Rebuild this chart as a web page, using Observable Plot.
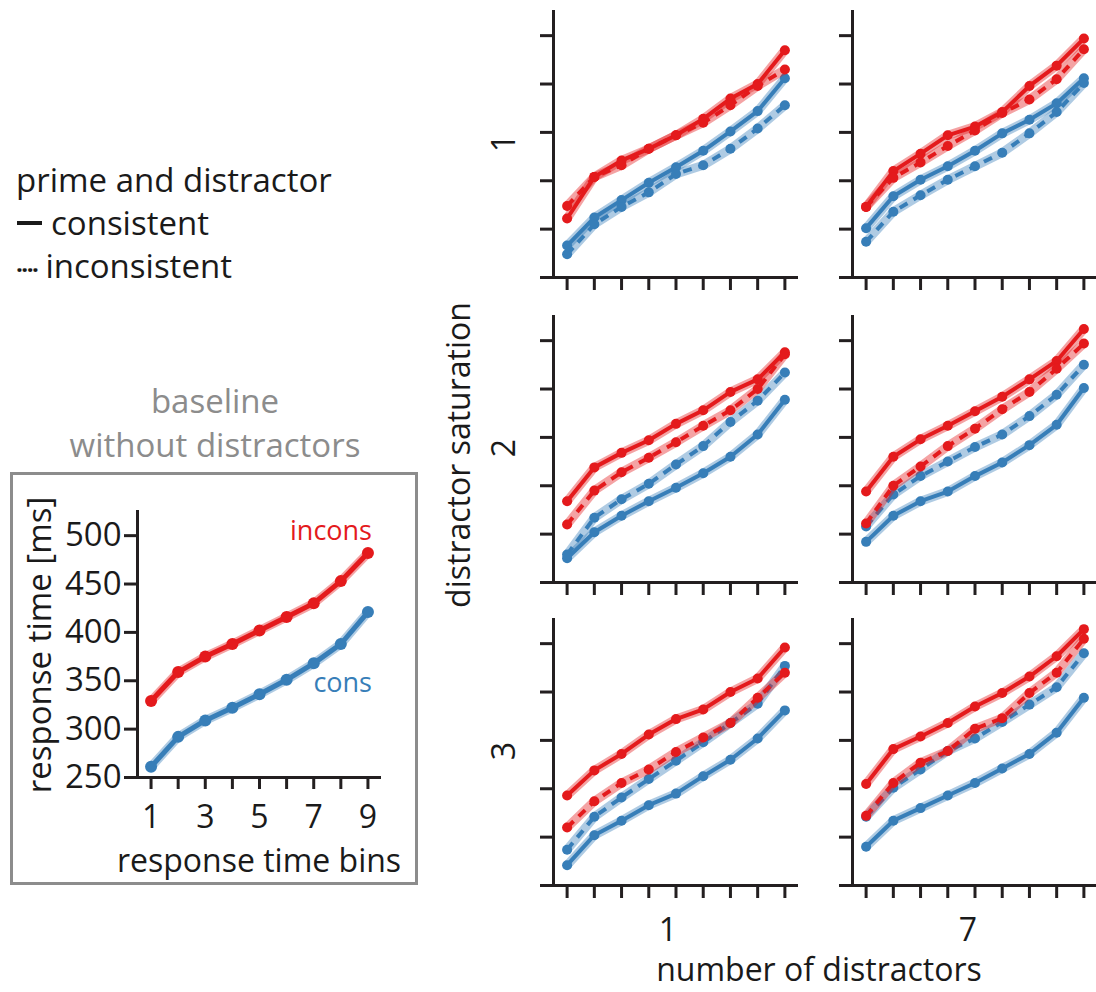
<!DOCTYPE html>
<html>
<head>
<meta charset="utf-8">
<script src="https://cdn.jsdelivr.net/npm/d3@7"></script>
<script src="https://cdn.jsdelivr.net/npm/@observablehq/plot@0.6"></script>
<style>
  html, body { margin: 0; padding: 0; background: #fff; overflow: hidden; }
  #root { position: relative; width: 1096px; height: 992px; overflow: hidden; font-family: "Open Sans", sans-serif; color: #1a1a1a; }
  .t { position: absolute; white-space: nowrap; }
  .abs { position: absolute; }
  #box { position: absolute; left: 10px; top: 472px; width: 402px; height: 407px; border: 3px solid #8c8c8c; }
  .dash { display: inline-block; width: 25px; height: 4px; background: #1a1a1a; vertical-align: 0.28em; margin-right: 9px; margin-left: 3px; }
  .dots { display: inline-block; font-weight: 700; font-size: 24px; letter-spacing: -1.5px; margin-right: 8px; margin-left: 2px; }
</style>
</head>
<body>
<div id="root"><div id="box"></div></div>
<script>
// ---------- data ----------
const bins = [1, 2, 3, 4, 5, 6, 7, 8, 9];
const yTicks = [250, 300, 350, 400, 450, 500];
const distractorCounts = [1, 7];
const saturations = [1, 2, 3];

// baseline without distractors (response time [ms])
const baselineIncons = [329, 359, 375, 388, 402, 416, 430, 453, 482];
const baselineCons   = [261, 292, 309, 322, 336, 351, 368, 388, 421];

// facets: d = number of distractors, s = distractor saturation
// Incons / Cons = response condition (red / blue); PrimeCons / PrimeIncons = prime and distractor consistent / inconsistent
const d1s1InconsPrimeCons   = [311, 354, 371, 383, 397, 414, 435, 450, 485];
const d1s1InconsPrimeIncons = [324, 354, 366, 383, 397, 410, 428, 448, 465];
const d1s1ConsPrimeCons     = [283, 312, 330, 348, 364, 381, 401, 422, 456];
const d1s1ConsPrimeIncons   = [274, 305, 323, 338, 357, 366, 383, 404, 428];

const d7s1InconsPrimeCons   = [323, 360, 378, 397, 406, 421, 448, 469, 497];
const d7s1InconsPrimeIncons = [323, 353, 369, 386, 402, 420, 434, 455, 486];
const d7s1ConsPrimeCons     = [301, 334, 351, 365, 381, 399, 413, 430, 456];
const d7s1ConsPrimeIncons   = [287, 318, 335, 351, 365, 379, 399, 421, 451];

const d1s2InconsPrimeCons   = [334, 369, 384, 397, 414, 428, 447, 460, 488];
const d1s2InconsPrimeIncons = [310, 345, 364, 379, 395, 412, 428, 450, 486];
const d1s2ConsPrimeCons     = [275, 302, 319, 334, 348, 363, 380, 403, 439];
const d1s2ConsPrimeIncons   = [279, 317, 336, 352, 372, 391, 416, 438, 467];

const d7s2InconsPrimeCons   = [344, 380, 398, 412, 427, 442, 460, 479, 512];
const d7s2InconsPrimeIncons = [311, 350, 370, 391, 409, 429, 447, 471, 497];
const d7s2ConsPrimeCons     = [292, 319, 334, 344, 360, 374, 392, 413, 451];
const d7s2ConsPrimeIncons   = [308, 341, 360, 375, 390, 403, 422, 444, 475];

const d1s3InconsPrimeCons   = [343, 369, 386, 406, 422, 432, 450, 464, 496];
const d1s3InconsPrimeIncons = [310, 337, 356, 370, 388, 403, 418, 444, 470];
const d1s3ConsPrimeCons     = [271, 302, 317, 333, 345, 363, 380, 402, 431];
const d1s3ConsPrimeIncons   = [287, 321, 341, 360, 379, 398, 418, 438, 477];

const d7s3InconsPrimeCons   = [355, 391, 404, 418, 435, 449, 466, 487, 515];
const d7s3InconsPrimeIncons = [322, 356, 377, 389, 412, 423, 449, 470, 505];
const d7s3ConsPrimeCons     = [290, 317, 330, 343, 356, 371, 386, 408, 444];
const d7s3ConsPrimeIncons   = [321, 351, 370, 389, 402, 419, 437, 455, 490];

// ---------- style ----------
const RED = "#e41a1c", BLUE = "#377eb8", AXIS = "#231f20", GREY = "#8c8c8c";
const FONT = "'Open Sans', sans-serif";
const xDomain = [0.5, 9.5];
const yDomain = [250, 526];
const colorScale = {domain: ["incons", "cons"], range: [RED, BLUE]};

// ---------- build tables ----------
const seriesList = [
  [1, 1, "incons", "consistent", d1s1InconsPrimeCons], [1, 1, "incons", "inconsistent", d1s1InconsPrimeIncons],
  [1, 1, "cons", "consistent", d1s1ConsPrimeCons],     [1, 1, "cons", "inconsistent", d1s1ConsPrimeIncons],
  [7, 1, "incons", "consistent", d7s1InconsPrimeCons], [7, 1, "incons", "inconsistent", d7s1InconsPrimeIncons],
  [7, 1, "cons", "consistent", d7s1ConsPrimeCons],     [7, 1, "cons", "inconsistent", d7s1ConsPrimeIncons],
  [1, 2, "incons", "consistent", d1s2InconsPrimeCons], [1, 2, "incons", "inconsistent", d1s2InconsPrimeIncons],
  [1, 2, "cons", "consistent", d1s2ConsPrimeCons],     [1, 2, "cons", "inconsistent", d1s2ConsPrimeIncons],
  [7, 2, "incons", "consistent", d7s2InconsPrimeCons], [7, 2, "incons", "inconsistent", d7s2InconsPrimeIncons],
  [7, 2, "cons", "consistent", d7s2ConsPrimeCons],     [7, 2, "cons", "inconsistent", d7s2ConsPrimeIncons],
  [1, 3, "incons", "consistent", d1s3InconsPrimeCons], [1, 3, "incons", "inconsistent", d1s3InconsPrimeIncons],
  [1, 3, "cons", "consistent", d1s3ConsPrimeCons],     [1, 3, "cons", "inconsistent", d1s3ConsPrimeIncons],
  [7, 3, "incons", "consistent", d7s3InconsPrimeCons], [7, 3, "incons", "inconsistent", d7s3InconsPrimeIncons],
  [7, 3, "cons", "consistent", d7s3ConsPrimeCons],     [7, 3, "cons", "inconsistent", d7s3ConsPrimeIncons]
];
const facetData = seriesList.flatMap(([dist, sat, cond, prime, vals]) =>
  vals.map((rt, i) => ({dist, sat, cond, prime, key: cond + "-" + prime, bin: bins[i], rt})));

const baselineData = [
  ...baselineIncons.map((rt, i) => ({cond: "incons", bin: bins[i], rt})),
  ...baselineCons.map((rt, i) => ({cond: "cons", bin: bins[i], rt}))
];

const root = document.getElementById("root");

function place(node, left, top) {
  node.classList.add("abs");
  node.style.left = left + "px";
  node.style.top = top + "px";
  root.appendChild(node);
}

// text helper: baseline positioning for Open Sans (baseline at lh/2 + 0.388 em from the top of the line box)
function text(str, x, baseline, {size = 32, anchor = "start", color = "#1a1a1a", lh = 1} = {}) {
  const d = document.createElement("div");
  d.className = "t";
  d.textContent = str;
  d.style.fontSize = size + "px";
  d.style.lineHeight = lh;
  d.style.color = color;
  d.style.top = (baseline - (lh / 2 + 0.388) * size) + "px";
  d.style.left = x + "px";
  if (anchor === "middle") d.style.transform = "translateX(-50%)";
  if (anchor === "end") d.style.transform = "translateX(-100%)";
  root.appendChild(d);
  return d;
}
function vtext(str, baselineX, cy, {size = 32, color = "#1a1a1a"} = {}) {
  const d = document.createElement("div");
  d.className = "t";
  d.textContent = str;
  d.style.fontSize = size + "px";
  d.style.lineHeight = 1;
  d.style.color = color;
  d.style.left = (baselineX - 0.388 * size) + "px";
  d.style.top = cy + "px";
  d.style.transform = "translate(-50%,-50%) rotate(-90deg)";
  root.appendChild(d);
  return d;
}

function lineMarks(data, {band = 9, line = 4, r = 5} = {}) {
  return [
    Plot.line(data, {x: "bin", y: "rt", z: "key", stroke: "cond", strokeWidth: band, strokeOpacity: 0.4}),
    Plot.line(data.filter(d => d.prime !== "inconsistent"), {x: "bin", y: "rt", z: "key", stroke: "cond", strokeWidth: line}),
    Plot.line(data.filter(d => d.prime === "inconsistent"), {x: "bin", y: "rt", z: "key", stroke: "cond", strokeWidth: line, strokeDasharray: "9,7", strokeLinecap: "butt"}),
    Plot.dot(data, {x: "bin", y: "rt", fill: "cond", r})
  ];
}

// ---------- facet panels ----------
const frameW = 245, frameH = 267;
const colLeft = {1: 553, 7: 852};
const rowTop = {1: 10, 2: 315, 3: 618};
const mL = 16, mT = 6, mR = 6, mB = 18;

for (const s of saturations) {
  for (const dcount of distractorCounts) {
    const data = facetData.filter(d => d.dist === dcount && d.sat === s);
    const chart = Plot.plot({
      width: mL + frameW + mR,
      height: mT + frameH + mB,
      marginLeft: mL, marginTop: mT, marginRight: mR, marginBottom: mB,
      x: {domain: xDomain, axis: null},
      y: {domain: yDomain, axis: null},
      color: colorScale,
      style: {background: "transparent", fontFamily: FONT, overflow: "visible"},
      marks: [
        Plot.axisY({ticks: yTicks, tickSize: 13, tickFormat: () => null, label: null, stroke: AXIS, strokeWidth: 3}),
        Plot.axisX({ticks: bins, tickSize: 13, tickFormat: () => null, label: null, stroke: AXIS, strokeWidth: 3}),
        Plot.ruleX([xDomain[0]], {stroke: AXIS, strokeWidth: 3}),
        Plot.ruleY([yDomain[0]], {stroke: AXIS, strokeWidth: 3}),
        ...lineMarks(data.filter(d => d.cond === "cons")),
        ...lineMarks(data.filter(d => d.cond === "incons"))
      ]
    });
    place(chart, colLeft[dcount] - mL, rowTop[s] - mT);
  }
}

// ---------- baseline panel ----------
{
  const bL = 100, bT = 8, bR = 10, bB = 62;
  const bW = 244, bH = 267;
  const chart = Plot.plot({
    width: bL + bW + bR,
    height: bT + bH + bB,
    marginLeft: bL, marginTop: bT, marginRight: bR, marginBottom: bB,
    x: {domain: xDomain, axis: null},
    y: {domain: yDomain, axis: null},
    color: colorScale,
    style: {background: "transparent", fontFamily: FONT, fontSize: "33px", color: "#1a1a1a", overflow: "visible"},
    marks: [
      Plot.axisY({ticks: yTicks, tickSize: 13, tickPadding: 3, label: null, stroke: AXIS, strokeWidth: 3, fill: "#1a1a1a", fontSize: 33}),
      Plot.axisX({ticks: bins, tickSize: 12, tickPadding: 16, label: null, stroke: AXIS, strokeWidth: 3, fill: "#1a1a1a", fontSize: 32,
                  tickFormat: d => (d % 2 === 1 ? String(d) : null)}),
      Plot.ruleX([xDomain[0]], {stroke: AXIS, strokeWidth: 3}),
      Plot.ruleY([yDomain[0]], {stroke: AXIS, strokeWidth: 3}),
      Plot.line(baselineData, {x: "bin", y: "rt", z: "cond", stroke: "cond", strokeWidth: 9, strokeOpacity: 0.4}),
      Plot.line(baselineData, {x: "bin", y: "rt", z: "cond", stroke: "cond", strokeWidth: 5}),
      Plot.dot(baselineData, {x: "bin", y: "rt", fill: "cond", r: 6})
    ]
  });
  place(chart, 136.5 - bL, 510 - bT);
}

// ---------- texts ----------
// legend
text("prime and distractor", 16, 192, {size: 33});
{
  const d = text("", 14, 235, {size: 33});
  d.innerHTML = '<span class="dash"></span>consistent';
  const e = text("", 14, 278, {size: 33});
  e.innerHTML = '<span class="dots">\u00b7\u00b7\u00b7\u00b7</span>inconsistent';
}
// baseline titles
text("baseline", 215, 413, {anchor: "middle", color: GREY, size: 33});
text("without distractors", 215, 457, {anchor: "middle", color: GREY, size: 33});
text("incons", 372, 540, {anchor: "end", size: 27, color: RED});
text("cons", 372, 692, {anchor: "end", size: 27, color: BLUE});
text("response time bins", 259, 873, {anchor: "middle", size: 32, lh: 0.7});
vtext("response time [ms]", 51, 645, {size: 33});

// facet labels
vtext("distractor saturation", 470, 455);
vtext("1", 515, 143);
vtext("2", 515, 448);
vtext("3", 515, 751);
text("1", 668, 941, {anchor: "middle"});
text("7", 968, 941, {anchor: "middle"});
text("number of distractors", 819, 981, {anchor: "middle"});
</script>
</body>
</html>
